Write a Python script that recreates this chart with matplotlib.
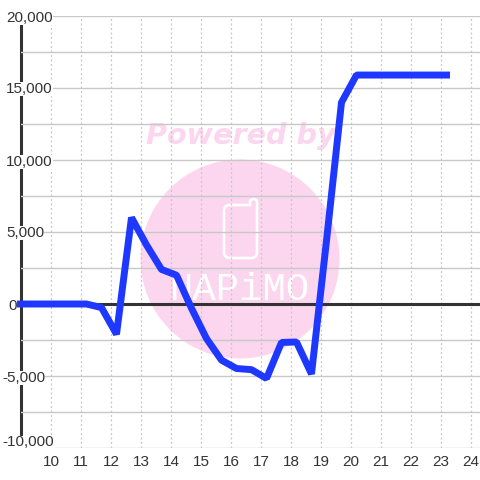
import matplotlib
matplotlib.use("Agg")
import matplotlib.pyplot as plt
from matplotlib.patches import Circle, PathPatch
from matplotlib.path import Path
from matplotlib.ticker import FixedLocator, FuncFormatter
from matplotlib.transforms import ScaledTranslation, IdentityTransform

hours = [9.0, 9.2, 9.7, 10.2, 10.7, 11.2, 11.7, 12.2, 12.7, 13.2, 13.7, 14.2, 14.7, 15.2,
         15.7, 16.2, 16.7, 17.2, 17.7, 18.2, 18.7, 19.2, 19.7, 20.2, 20.7, 21.2, 21.7,
         22.2, 22.7, 23.2]
profit = [0, 0, 0, 0, 0, 0, -250, -2100, 6000, 4100, 2400, 2000, -300, -2400,
          -3900, -4480, -4560, -5170, -2670, -2640, -4860, 4400, 14000, 15900, 15900,
          15900, 15900, 15900, 15900, 15900]
y_labelled = [-10000, -5000, 0, 5000, 10000, 15000, 20000]
y_minor = [-7500, -2500, 2500, 7500, 12500, 17500]
x_ticks = list(range(10, 25))

INK = "#333333"
GRID = "#c8c8c8"
PINK = "#fbd6ee"
BLUE = "#1f38ff"

plt.rcParams["font.family"] = ["Liberation Sans", "DejaVu Sans"]
fig = plt.figure(figsize=(4.8, 4.8), dpi=100, facecolor="white")
ax = fig.add_axes([20.5 / 480, 1 - 448 / 480, (480 - 20.5) / 480, (448 - 16) / 480])
ax.set_xlim(9, 9 + (480 - 20.5) / 30)
ax.set_ylim(-10000, 20000)
for s in ax.spines.values():
    s.set_visible(False)

# Watermark, placed in pixels
px = IdentityTransform()
def P(x, y):
    return (x, 480 - y)
ax.add_patch(Circle(P(240, 259), 99.5, transform=px, fc=PINK, ec="none", zorder=0.1))
C3, L4, M = Path.CURVE3, Path.LINETO, Path.MOVETO
phone = [((230, 205), M), ((250, 205), L4), ((250, 202), L4), ((250, 199), C3), ((253.5, 199), C3),
         ((257, 199), C3), ((257, 202), C3), ((257, 252), L4), ((257, 258), C3), ((251, 258), C3),
         ((230, 258), L4), ((224, 258), C3), ((224, 252), C3), ((224, 211), L4), ((224, 205), C3),
         ((230, 205), C3)]
ax.add_patch(PathPatch(Path([P(*p) for p, _ in phone], [c for _, c in phone]), transform=px,
                       fc="none", ec="white", lw=1.9, zorder=0.2, clip_on=False))
ax.text(*P(241, 136), "Powered by", transform=px, color=PINK, fontsize=20.6, fontweight="bold",
        fontstyle="italic", family="DejaVu Sans", ha="center", va="center", zorder=0.15, clip_on=False)
ax.text(*P(240, 290), "NAPiMO", transform=px, color="white", fontsize=28, family="Liberation Mono",
        ha="center", va="center", zorder=0.2)

ax.xaxis.set_major_locator(FixedLocator(x_ticks))
ax.yaxis.set_major_locator(FixedLocator(y_labelled))
ax.yaxis.set_minor_locator(FixedLocator(y_minor))
ax.yaxis.set_major_formatter(FuncFormatter(lambda v, _: f"{int(v):,}"))
ax.set_axisbelow(True)
ax.grid(True, axis="x", color=GRID, lw=0.9, ls=(0, (1.6, 2)))
ax.grid(True, axis="y", which="both", color=GRID, lw=1.0)
ax.tick_params(axis="both", which="both", length=0)
ax.tick_params(axis="x", labelsize=11, labelcolor=INK, pad=5)
ax.tick_params(axis="y", labelsize=11, labelcolor=INK, pad=0)

ax.axvline(9, color=INK, lw=2.2, zorder=0.4, clip_on=False)
ax.axhline(0, color=INK, lw=2.2, zorder=1)
ax.plot(hours, profit, color=BLUE, lw=5.0, solid_joinstyle="bevel",
        solid_capstyle="projecting", zorder=3, clip_on=False)

for t, v in zip(ax.yaxis.get_major_ticks(), y_labelled):
    lab = t.label1
    lab.set_ha("left")
    lab.set_clip_on(False)
    lab.set_bbox(dict(fc="white", ec="none", pad=0))
    left = 2 if v < 0 else (8 if v == 0 else 6)
    up = 7 if v == -10000 else 0
    lab.set_transform(lab.get_transform() + ScaledTranslation((left - 20.5) / 100, up / 100, fig.dpi_scale_trans))
for t in ax.xaxis.get_major_ticks():
    lab = t.label1
    lab.set_transform(lab.get_transform() + ScaledTranslation(0.7 / 100, 0, fig.dpi_scale_trans))
fig.savefig("out.png", dpi=100)
